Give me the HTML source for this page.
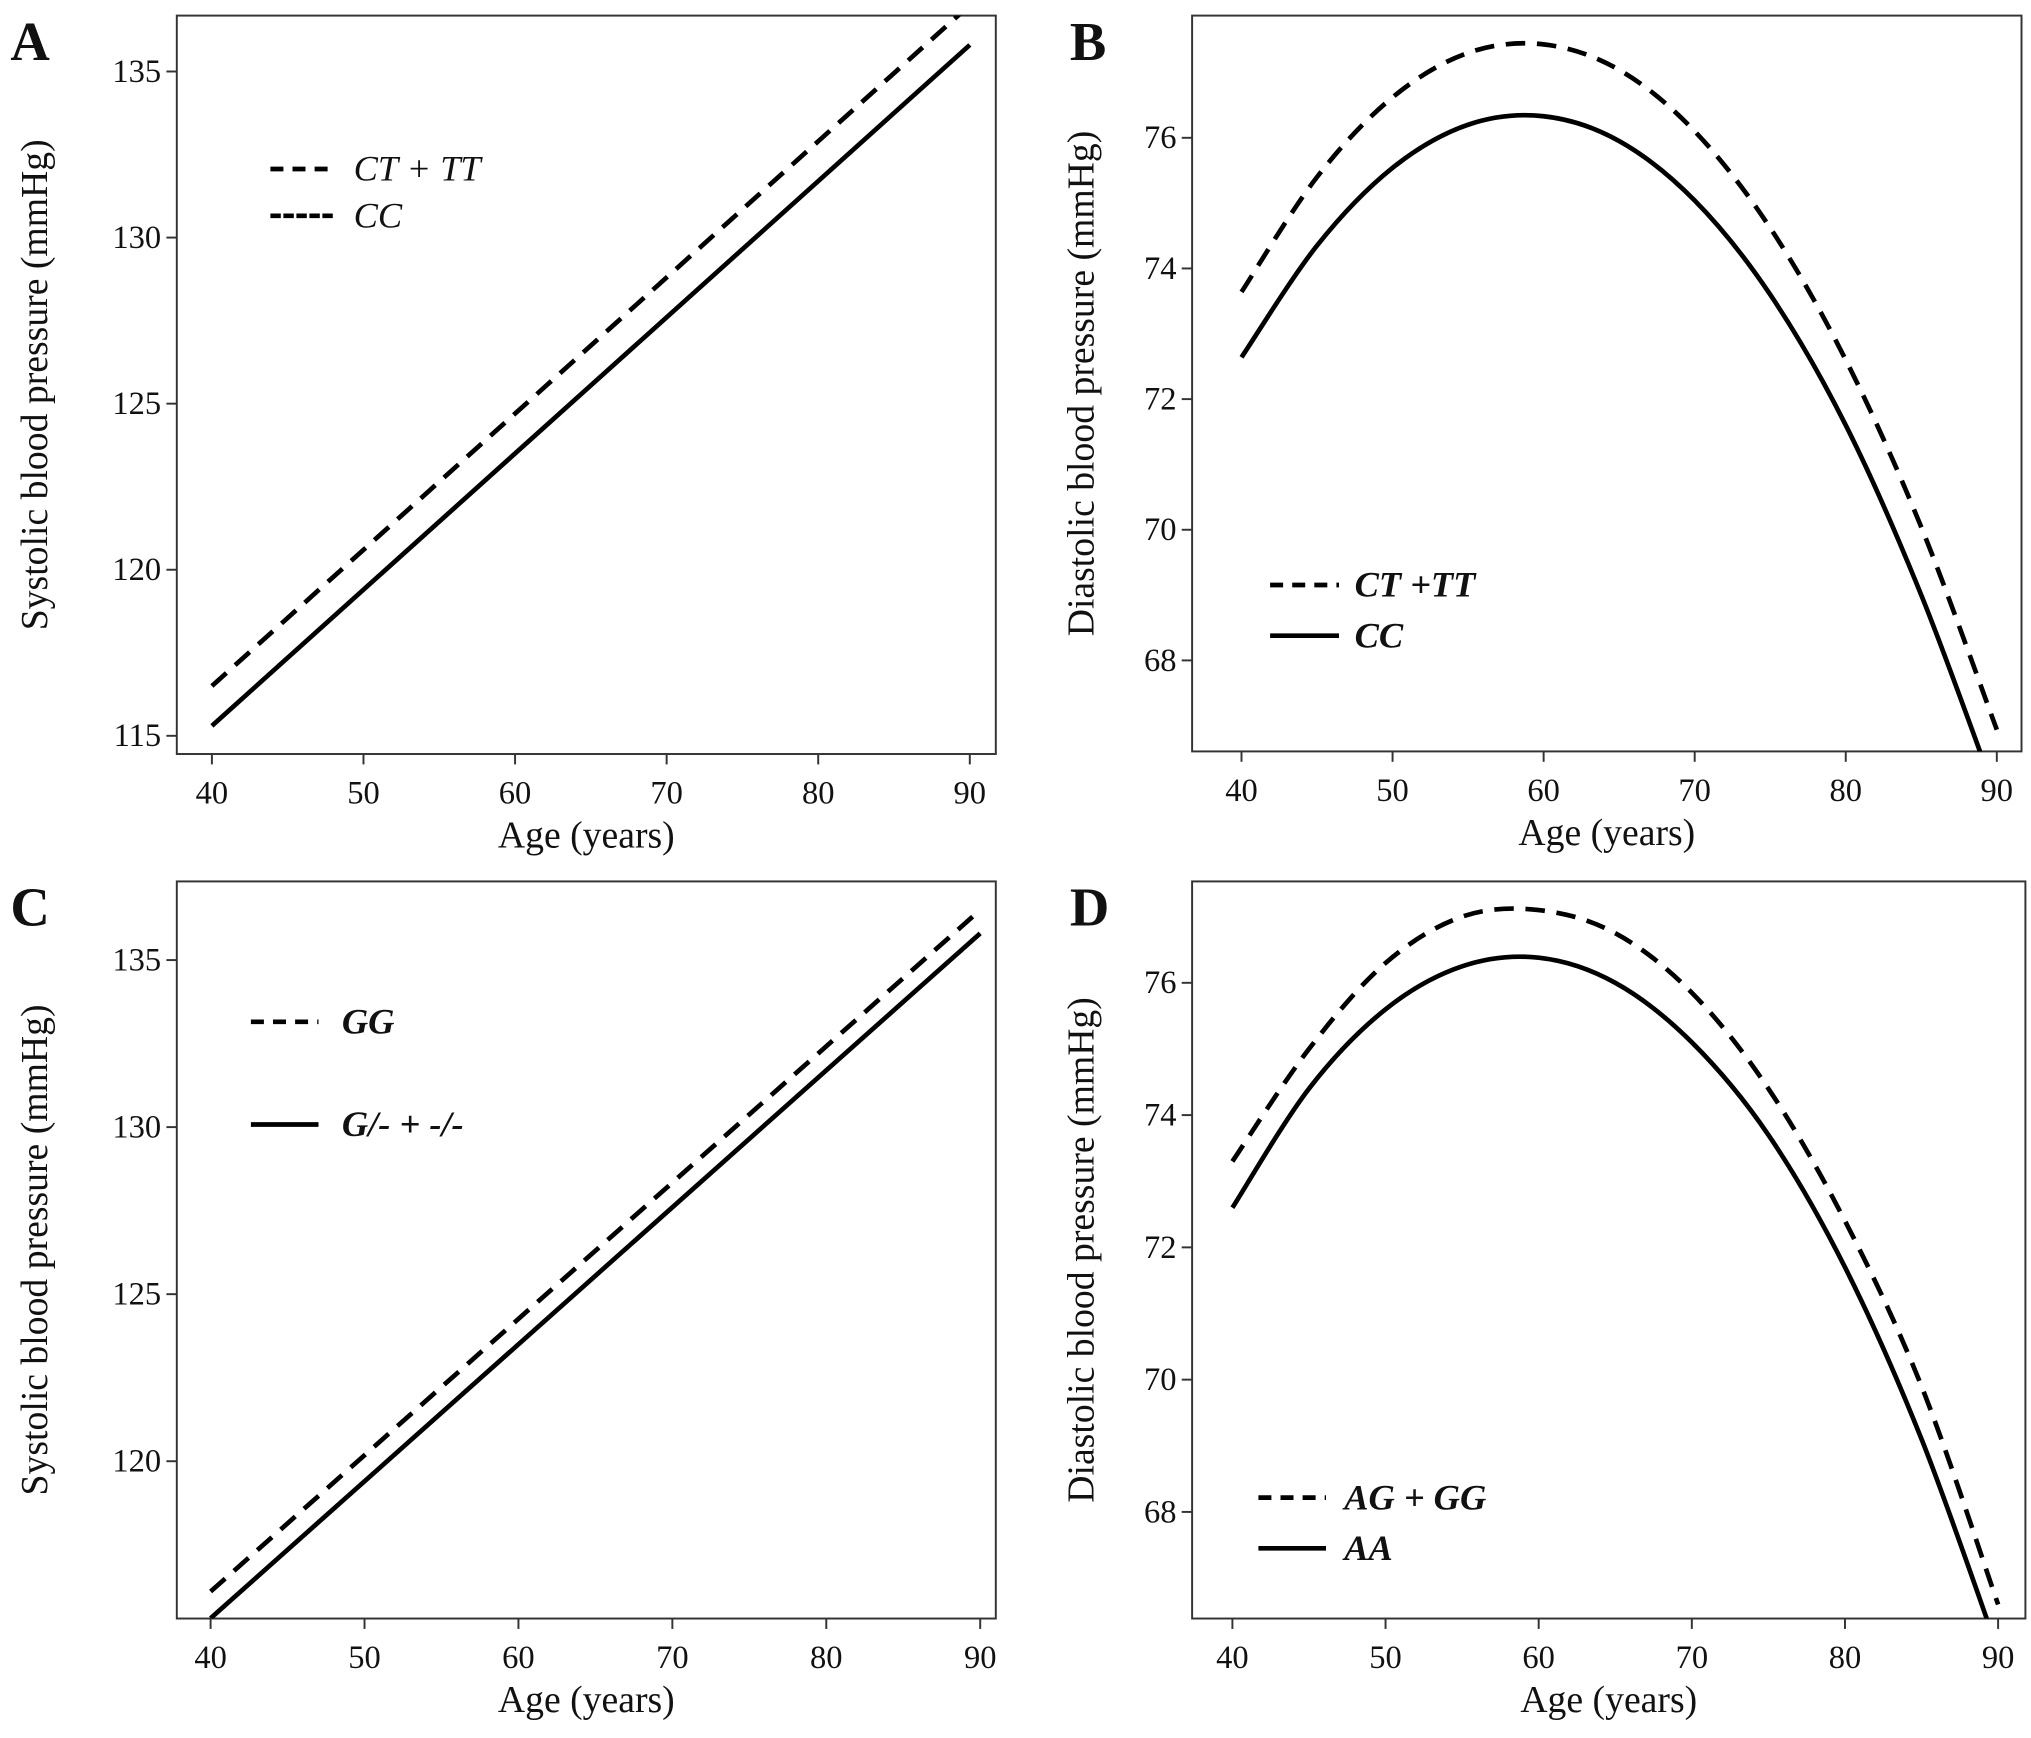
<!DOCTYPE html>
<html><head><meta charset="utf-8"><style>
html,body{margin:0;padding:0;background:#fff;}
svg{display:block;}
text{font-family:"Liberation Serif",serif;fill:#111;}
</style></head><body>
<svg id="fig" width="2031" height="1738" viewBox="0 0 1562.3 1336.9" preserveAspectRatio="none" xmlns="http://www.w3.org/2000/svg"></svg>
<script>
// Panel A data (systolic)
const agesLin = [40, 90];
const aDashed = [116.5, 137.0];
const aSolid = [115.3, 135.8];
const aYTicks = [115, 120, 125, 130, 135];
// Panel B data (diastolic)
const ages5 = [40, 45, 50, 55, 60, 65, 70, 75, 80, 85, 90];
const bDashed = [73.64, 75.40, 76.62, 77.30, 77.43, 77.04, 76.10, 74.62, 72.60, 70.04, 66.94];
const bSolid = [72.64, 74.35, 75.54, 76.20, 76.33, 75.95, 75.04, 73.60, 71.60, 69.00, 65.90];
const dYTicks = [68, 70, 72, 74, 76];
// Panel C data
const cDashed = [116.1, 136.5];
const cSolid = [115.3, 135.8];
// Panel D data
const dDashed = [73.30, 75.00, 76.30, 77.00, 77.10, 76.75, 75.85, 74.40, 72.40, 69.90, 66.60];
const dSolid = [72.60, 74.40, 75.60, 76.25, 76.38, 76.00, 75.10, 73.70, 71.70, 69.10, 65.90];
const xTicks = [40, 50, 60, 70, 80, 90];

const NS = "http://www.w3.org/2000/svg";
const svg = document.getElementById('fig');
function mk(tag, attrs, parent) {
  const e = document.createElementNS(NS, tag);
  for (const k in attrs) e.setAttribute(k, attrs[k]);
  (parent || svg).appendChild(e);
  return e;
}
function smoothPath(pts) {
  if (pts.length === 2) return `M${pts[0][0]},${pts[0][1]}L${pts[1][0]},${pts[1][1]}`;
  let d = `M${pts[0][0]},${pts[0][1]}`;
  for (let i = 0; i < pts.length - 1; i++) {
    const p0 = pts[Math.max(0, i - 1)], p1 = pts[i], p2 = pts[i + 1], p3 = pts[Math.min(pts.length - 1, i + 2)];
    const c1x = p1[0] + (p2[0] - p0[0]) / 6, c1y = p1[1] + (p2[1] - p0[1]) / 6;
    const c2x = p2[0] - (p3[0] - p1[0]) / 6, c2y = p2[1] - (p3[1] - p1[1]) / 6;
    d += `C${c1x},${c1y} ${c2x},${c2y} ${p2[0]},${p2[1]}`;
  }
  return d;
}
function panel(cfg) {
  const g = mk('g', {});
  
  
  const X = v => cfg.x0 + (v - 40) * (cfg.x1 - cfg.x0) / 50;
  const Y = v => cfg.yA + (v - cfg.vA) * (cfg.yB - cfg.yA) / (cfg.vB - cfg.vA);
  const clipId = 'clip' + cfg.id;
  const cp = mk('clipPath', {id: clipId}, g);
  mk('rect', {x: cfg.L, y: cfg.T, width: cfg.R - cfg.L, height: cfg.B - cfg.T}, cp);
  const frame = mk('rect', {x: cfg.L, y: cfg.T, width: cfg.R - cfg.L, height: cfg.B - cfg.T, fill: 'none', stroke: '#333', 'stroke-width': 1.5}, g);
  
  
  xTicks.forEach(t => {
    const x = X(t);
    const tk = mk('line', {x1: x, x2: x, y1: cfg.B, y2: cfg.B + 8, stroke: '#333', 'stroke-width': 1.5}, g);
    
    
    const tl = mk('text', {x: x, y: cfg.B + 38, 'text-anchor': 'middle', 'font-size': 25}, g);
    tl.textContent = t;
    
    
  });
  cfg.yTicks.forEach(t => {
    const y = Y(t);
    if (y < cfg.T - 1 || y > cfg.B + 1) return;
    const tk = mk('line', {x1: cfg.L - 8, x2: cfg.L, y1: y, y2: y, stroke: '#333', 'stroke-width': 1.5}, g);
    
    
    const tl = mk('text', {x: cfg.L - 12, y: y + 8, 'text-anchor': 'end', 'font-size': 25}, g);
    tl.textContent = t;
    
    
  });
  const xt = mk('text', {x: (cfg.L + cfg.R) / 2, y: cfg.B + 72, 'text-anchor': 'middle', 'font-size': 29}, g);
  xt.textContent = 'Age (years)';
  
  
  const yc = (cfg.T + cfg.B) / 2;
  const yt = mk('text', {x: 0, y: 0, 'text-anchor': 'middle', 'font-size': 29, transform: `translate(${cfg.L - cfg.ytOff},${yc}) rotate(-90)`}, g);
  yt.textContent = cfg.ytitle;
  
  
  const pl = mk('text', {x: cfg.labX, y: cfg.T + 34, 'font-size': 42, 'font-weight': 'bold'}, g);
  pl.textContent = cfg.id;
  
  
  const series = [[cfg.dashed, true, 'dashed-series'], [cfg.solid, false, 'solid-series']];
  series.forEach(([vals, dash, nm]) => {
    const pts = vals.map((v, i) => [X(cfg.ages[i]), Y(v)]);
    const p = mk('path', {d: smoothPath(pts), fill: 'none', stroke: '#000', 'stroke-width': 3.6, 'clip-path': `url(#${clipId})`}, g);
    if (dash) p.setAttribute('stroke-dasharray', '15 9');
    
    
  });
  cfg.legend.forEach(([lab, dash, ly, solidDense]) => {
    const le = mk('g', {}, g);
    
    
    const ln = mk('line', {x1: cfg.legX, x2: cfg.legX + cfg.legW, y1: ly, y2: ly, stroke: '#000', 'stroke-width': 3.6}, le);
    if (dash) ln.setAttribute('stroke-dasharray', '10 7');
    if (solidDense) ln.setAttribute('stroke-dasharray', '8 2');
    const tx = mk('text', {x: cfg.legX + cfg.legW + cfg.legGap, y: ly + 9, 'font-size': 28, 'font-style': 'italic', 'font-weight': cfg.legBold ? 'bold' : 'normal'}, le);
    tx.textContent = lab;
  });
}
panel({id: 'A', L: 136, R: 766, T: 12, B: 580, x0: 163, x1: 746, vA: 115, yA: 566, vB: 135, yB: 55, ytOff: 100,
  yTicks: aYTicks, ages: agesLin, dashed: aDashed, solid: aSolid, ytitle: 'Systolic blood pressure (mmHg)', labX: 8,
  legX: 208, legW: 48, legGap: 16, legBold: false, legend: [['CT + TT', true, 130, false], ['CC', false, 166, true]]});
panel({id: 'B', L: 917, R: 1555, T: 12, B: 578, x0: 955, x1: 1536, vA: 68, yA: 508, vB: 76, yB: 106, ytOff: 76,
  yTicks: dYTicks, ages: ages5, dashed: bDashed, solid: bSolid, ytitle: 'Diastolic blood pressure (mmHg)', labX: 823,
  legX: 977, legW: 53, legGap: 12, legBold: true, legend: [['CT +TT', true, 450, false], ['CC', false, 489, false]]});
panel({id: 'C', L: 136, R: 766, T: 678, B: 1245, x0: 162, x1: 754, vA: 120, yA: 1124, vB: 130, yB: 867, ytOff: 100,
  yTicks: aYTicks, ages: agesLin, dashed: cDashed, solid: cSolid, ytitle: 'Systolic blood pressure (mmHg)', labX: 8,
  legX: 193, legW: 52, legGap: 18, legBold: true, legend: [['GG', true, 786, false], ['G/- + -/-', false, 865, false]]});
panel({id: 'D', L: 917, R: 1558, T: 678, B: 1245, x0: 948, x1: 1537, vA: 68, yA: 1163, vB: 76, yB: 756, ytOff: 76,
  yTicks: dYTicks, ages: ages5, dashed: dDashed, solid: dSolid, ytitle: 'Diastolic blood pressure (mmHg)', labX: 823,
  legX: 968, legW: 52, legGap: 14, legBold: true, legend: [['AG + GG', true, 1152, false], ['AA', false, 1191, false]]});
</script>
</body></html>
